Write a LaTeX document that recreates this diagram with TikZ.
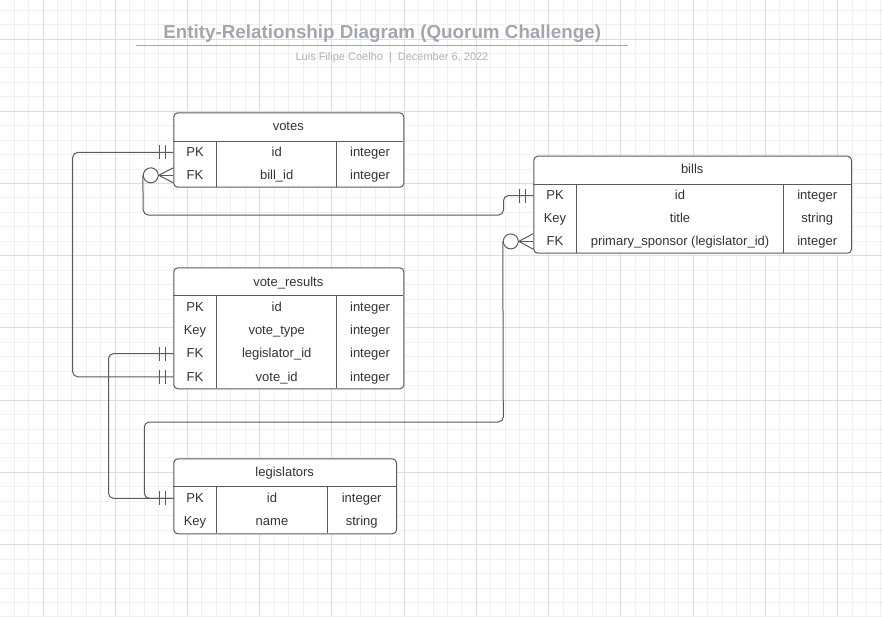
\documentclass[tikz,border=0pt]{standalone}
\usepackage{fontspec}
\setmainfont{Liberation Sans}
\begin{document}
\begin{tikzpicture}[x=1pt,y=-1pt,
  tbl/.style={draw=linec, line width=1pt, rounded corners=4pt, fill=white, inner sep=0pt, anchor=north west},
  tline/.style={draw=linec, line width=1pt},
  txt/.style={text=textc, font=\fontsize{13}{15}\selectfont, inner sep=0pt, text height=9.3pt, text depth=2.7pt, yshift=-0.9pt},
  conn/.style={draw=linec, line width=1pt, rounded corners=5pt},
  ermark/.style={draw=linec, line width=1pt},
  gridminor/.style={draw=gridminc, line width=0.9pt},
  gridmajor/.style={draw=gridmajc, line width=1pt}]
\definecolor{linec}{HTML}{5A5A5A}
\definecolor{textc}{HTML}{333333}
\definecolor{gridminc}{HTML}{F0F0F0}
\definecolor{gridmajc}{HTML}{DEDEDE}
\definecolor{titlec}{HTML}{A2A6B0}
\definecolor{subc}{HTML}{ABAFB7}
\useasboundingbox (0,0) rectangle (882,616);
\fill[white] (0,0) rectangle (882,616);
% grid
\foreach \i in {-3,...,58} {
  \pgfmathsetmacro{\xx}{43+\i*14.446}
  \draw[gridminor] (\xx,0) -- (\xx,616);
}
\foreach \i in {-2,...,40} {
  \pgfmathsetmacro{\yy}{39+\i*14.446}
  \draw[gridminor] (0,\yy) -- (882,\yy);
}
\foreach \i in {0,...,11} {
  \pgfmathsetmacro{\xx}{43+\i*72.23}
  \draw[gridmajor] (\xx,0) -- (\xx,616);
}
\foreach \i in {0,...,7} {
  \pgfmathsetmacro{\yy}{39+\i*72.23}
  \draw[gridmajor] (0,\yy) -- (882,\yy);
}
% title
\node[text=titlec, font=\fontsize{18.8}{22}\selectfont\bfseries, inner sep=0pt] (title) at (382.2,33.2) {Entity-Relationship Diagram (Quorum Challenge)};
\coordinate (tl) at (136,45.7);
\coordinate (tr) at (627.7,45.7);
\draw[draw=titlec, line width=1.2pt] (tl) -- (tr);
\node[text=subc, font=\fontsize{11}{13}\selectfont, inner sep=0pt] (sub) at (392,57.3) {Luis Filipe Coelho\hspace{6pt}|\hspace{6pt}December 6, 2022};

% ---------- votes ----------
\node[tbl, minimum width=230pt, minimum height=74.4pt] (votes) at (173.3,112.3) {};
\draw[tline] (173.3,141) -- (403.3,141);
\draw[tline] (216.7,141) -- (216.7,186.7);
\draw[tline] (336.7,141) -- (336.7,186.7);
\node[txt] (votesH) at (288.3,126.2) {votes};
\node[txt] (votesPK) at (195,152.4) {PK};
\node[txt] at (276.7,152.4) {id};
\node[txt] at (370,152.4) {integer};
\node[txt] (votesFK) at (195,175.3) {FK};
\node[txt] at (276.7,175.3) {bill\_id};
\node[txt] at (370,175.3) {integer};

% ---------- bills ----------
\node[tbl, minimum width=317.7pt, minimum height=97pt] (bills) at (533.3,155.7) {};
\draw[tline] (533.3,184) -- (851,184);
\draw[tline] (576.7,184) -- (576.7,252.7);
\draw[tline] (783.3,184) -- (783.3,252.7);
\node[txt] (billsH) at (692.2,169.3) {bills};
\node[txt] (billsPK) at (555,195.5) {PK};
\node[txt] at (680,195.5) {id};
\node[txt] at (817.2,195.5) {integer};
\node[txt] (billsKey) at (555,218.5) {Key};
\node[txt] at (680,218.5) {title};
\node[txt] at (817.2,218.5) {string};
\node[txt] (billsFK) at (555,241.4) {FK};
\node[txt] at (680,241.4) {primary\_sponsor (legislator\_id)};
\node[txt] at (817.2,241.4) {integer};

% ---------- vote_results ----------
\node[tbl, minimum width=230pt, minimum height=121pt] (vr) at (173.3,267.3) {};
\draw[tline] (173.3,295.7) -- (403.3,295.7);
\draw[tline] (216.7,295.7) -- (216.7,388.3);
\draw[tline] (336.7,295.7) -- (336.7,388.3);
\node[txt] (vrH) at (288.3,282) {vote\_results};
\node[txt] (vrPK) at (195,307.3) {PK};
\node[txt] at (276.7,307.3) {id};
\node[txt] at (370,307.3) {integer};
\node[txt] (vrKey) at (195,330.5) {Key};
\node[txt] at (276.7,330.5) {vote\_type};
\node[txt] at (370,330.5) {integer};
\node[txt] (vrFK1) at (195,353.6) {FK};
\node[txt] at (276.7,353.6) {legislator\_id};
\node[txt] at (370,353.6) {integer};
\node[txt] (vrFK2) at (195,376.8) {FK};
\node[txt] at (276.7,376.8) {vote\_id};
\node[txt] at (370,376.8) {integer};

% ---------- legislators ----------
\node[tbl, minimum width=222.7pt, minimum height=75pt] (leg) at (173.3,458.3) {};
\draw[tline] (173.3,486.7) -- (396,486.7);
\draw[tline] (216.7,486.7) -- (216.7,533.3);
\draw[tline] (327.3,486.7) -- (327.3,533.3);
\node[txt] (legH) at (284.7,472) {legislators};
\node[txt] (legPK) at (195,498.3) {PK};
\node[txt] at (272,498.3) {id};
\node[txt] at (361.7,498.3) {integer};
\node[txt] (legKey) at (195,521.7) {Key};
\node[txt] at (272,521.7) {name};
\node[txt] at (361.7,521.7) {string};

% ---------- connectors ----------
\coordinate (eVotesPK) at (votes.west |- 0,152.4);
\coordinate (eVotesFK) at (votes.west |- 0,175.3);
\coordinate (eBillsPK) at (bills.west |- 0,195.5);
\coordinate (eBillsFK) at (bills.west |- 0,241.4);
\coordinate (eVrFK1) at (vr.west |- 0,353.6);
\coordinate (eVrFK2) at (vr.west |- 0,376.8);
\coordinate (eLegPK) at (leg.west |- 0,498.3);

% votes.id -- vote_results.vote_id
\draw[conn] (eVotesPK) -- (72.7,152.4) -- (72.7,376.8) -- (eVrFK2);
% vote_results.legislator_id -- legislators.id
\draw[conn] (eVrFK1) -- (108.5,353.6) -- (108.5,498.3) -- (eLegPK);
% votes.bill_id >o -- bills.id
\node[draw=linec, line width=1pt, circle, minimum size=15pt, inner sep=0pt, fill=white] (cVotes) at (150.8,175.3) {};
\draw[conn] (cVotes.west) -- (143.3,215) -- (503.5,215) -- (503.5,195.5) -- (eBillsPK);
\draw[ermark] (cVotes.east) -- (173.3,167.8);
\draw[ermark] (cVotes.east) -- (eVotesFK);
\draw[ermark] (cVotes.east) -- (173.3,182.8);
% bills.primary_sponsor >o -- legislators.id
\node[draw=linec, line width=1pt, circle, minimum size=15pt, inner sep=0pt, fill=white] (cBills) at (510.8,241.4) {};
\draw[conn] (cBills.west) -- (503.3,422) -- (144.3,422) -- (144.3,498.3) -- (eLegPK);
\draw[ermark] (cBills.east) -- (533.3,233.6);
\draw[ermark] (cBills.east) -- (eBillsFK);
\draw[ermark] (cBills.east) -- (533.3,249.2);

% one-and-only-one bars
\foreach \c in {eVotesPK, eVrFK1, eVrFK2, eLegPK, eBillsPK} {
  \draw[ermark] ([xshift=-14pt,yshift=-7pt]\c) -- ([xshift=-14pt,yshift=7pt]\c);
  \draw[ermark] ([xshift=-8pt,yshift=-7pt]\c) -- ([xshift=-8pt,yshift=7pt]\c);
}
\end{tikzpicture}
\end{document}
